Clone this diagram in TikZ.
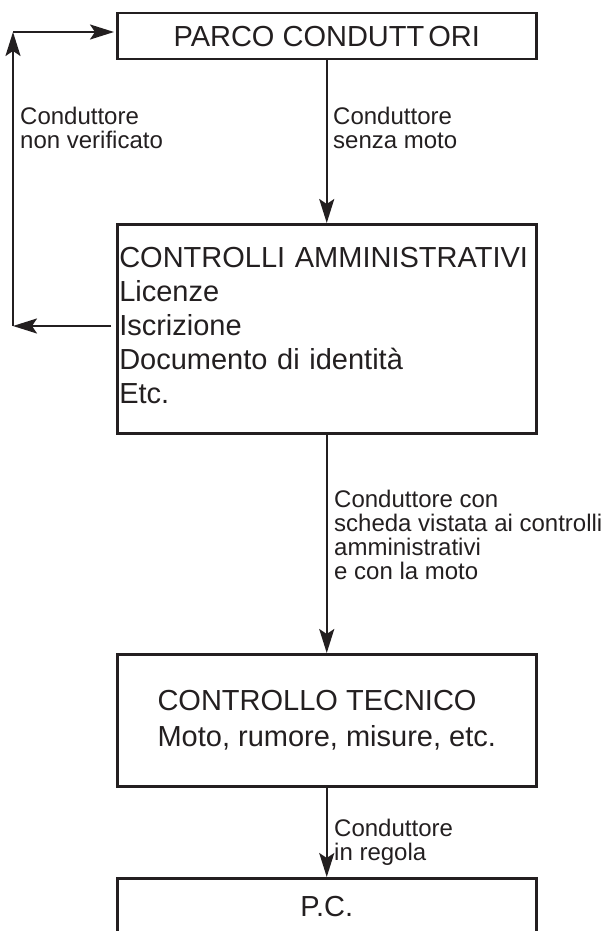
\documentclass[tikz,border=0pt]{standalone}
\usepackage{fontspec}
\setmainfont{Liberation Sans}
\usetikzlibrary{arrows.meta}
\definecolor{ink}{RGB}{35,31,32}
\tikzset{
  box/.style={draw=ink, line width=2.5pt, inner sep=0pt, text=ink},
  arr/.style={draw=ink, line width=2.1pt, -{Stealth[length=24pt,width=15pt,inset=5pt]}},
  lbl/.style={inner sep=0pt, anchor=base west, align=left, text=ink, font=\fontsize{24}{24}\selectfont},
  big/.style={font=\fontsize{29}{34}\selectfont}
}
\begin{document}
\begin{tikzpicture}[x=1pt,y=-1pt]
\useasboundingbox (0,0) rectangle (605,931);
\clip (0,0) rectangle (605,931);
\node[box, big, anchor=north west, minimum width=419pt, minimum height=46pt] (box1) at (116,12) {PARCO CONDUTT\kern4pt ORI};
\node[box, big, anchor=north west, minimum width=419pt, minimum height=209pt, text width=415pt, align=left] (box2) at (116,223) {CONTROLLI AMMINISTRATIVI\\Licenze\\Iscrizione\\Documento di identità\\Etc.\rule[-6pt]{0pt}{6pt}};
\node[box, anchor=north west, minimum width=419pt, minimum height=132pt, align=left, font=\fontsize{29}{36}\selectfont] (box3) at (116,653) {CONTROLLO TECNICO\\Moto, rumore, misure, etc.};
\node[box, big, anchor=north west, minimum width=419pt, minimum height=56pt] (box4) at (116,877) {P.C.};
\coordinate (lb) at (13,326);
\coordinate (lt) at (13,32);
\draw[arr] (box1.south) -- (box2.north);
\draw[arr] (box2.south) -- (box3.north);
\draw[arr] (box3.south) -- (box4.north);
\draw[arr, shorten <=5pt] (box2.west |- lb) -- (lb);
\draw[arr] (lb) -- (lt);
\draw[arr, shorten >=2pt] (lt) -- (box1.west |- lt);
\node[lbl] (l1) at (20,148) {Conduttore\\non verificato};
\node[lbl] (l2) at (333,148) {Conduttore\\senza moto};
\node[lbl] (l3) at (334,579) {Conduttore con\\scheda vistata ai controlli\\amministrativi\\e con la moto};
\node[lbl] (l4) at (334,860) {Conduttore\\in regola};
\end{tikzpicture}
\end{document}
